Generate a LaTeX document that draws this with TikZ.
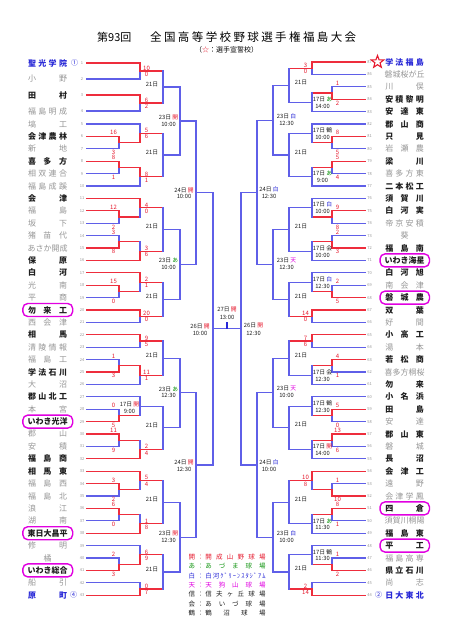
\documentclass[tikz,border=0pt]{standalone}
\usepackage{fontspec}
\setmainfont{Noto Sans CJK JP}
\usetikzlibrary{calc,shapes.geometric}
\definecolor{Wc}{RGB}{238,45,60}
\definecolor{Lc}{RGB}{95,95,232}
\definecolor{Rd}{RGB}{230,25,45}
\definecolor{Gn}{RGB}{20,150,20}
\definecolor{Bl}{RGB}{40,40,215}
\definecolor{Mg}{RGB}{225,0,225}
\definecolor{Gy}{RGB}{150,150,150}
\definecolor{Nb}{RGB}{30,30,30}
\def\spr#1{#1\sprnext}
\def\sprnext#1{\ifx#1\relax\else\hfill#1\expandafter\sprnext\fi}
\newcommand\venK{{\color{Rd}開}}
\newcommand\venA{{\color{Gn}あ}}
\newcommand\venS{{\color{Bl}白}}
\newcommand\venT{{\color{Mg}天}}
\newcommand\lteam[3]{\coordinate (t#1) at (87,{ly(#1)});
  \node[nm,#2] (n#1) at (47.5,{ly(#1)}) {\makebox[39pt]{\spr #3\relax}};
  \node[num] (k#1) at (82,{ly(#1)}) {#1};}
\newcommand\rteam[3]{\coordinate (t#1) at (365,{ry(#1)});
  \node[nm,#2] (n#1) at (404.5,{ry(#1)}) {\makebox[38.5pt]{\spr #3\relax}};
  \node[num] (k#1) at (369.5,{ry(#1)}) {#1};}
\newcommand\mch[7]{%
  \draw[#5] (#2) -- (#2 -| #4);
  \draw[#6] (#3) -- (#3 -| #4);
  \coordinate (#1) at ($(#2 -| #4)!0.5!(#3 -| #4)$);
  \ifcase#7\relax \draw[L] (#2 -| #4) -- (#3 -| #4);
  \or \draw[L] (#1) -- (#3 -| #4); \draw[W] (#2 -| #4) -- (#1);
  \or \draw[L] (#2 -| #4) -- (#1); \draw[W] (#1) -- (#3 -| #4);
  \fi}
% left first-level scores
\newcommand\scA[5]{\node[sc] (#1-u) at ($(#2 -| xa)+(-5.5,-3.6)$) {#4};
  \node[sc] (#1-l) at ($(#3 -| xa)+(-5.5,3.8)$) {#5};}
% left second-level scores
\newcommand\scB[3]{\node[sc] (#1-u) at ($(#1)+(6.5,-2.8)$) {#2};
  \node[sc] (#1-l) at ($(#1)+(6.5,3.4)$) {#3};}
% right first-level scores
\newcommand\scR[5]{\node[sc] (#1-u) at ($(#2 -| ra)+(5.5,-3.6)$) {#4};
  \node[sc] (#1-l) at ($(#3 -| ra)+(5.5,3.8)$) {#5};}
% right second-level scores
\newcommand\scQ[3]{\node[sc] (#1-u) at ($(#1)+(-6.5,-2.8)$) {#2};
  \node[sc] (#1-l) at ($(#1)+(-6.5,3.4)$) {#3};}
% date labels
\newcommand\dlab[6]{\node[lb] (#1-d) at ($(#1)+(#2,#3)$) {#5};
  \node[lb] (#1-h) at ($(#1)+(#2,#4)$) {#6};}
\newcommand\xxi[3]{\node[lb] (#1-x) at ($(#1)+(#2,#3)$) {21日};}
\newcommand\ringit[1]{\draw[ring] ($(n#1.west)+(-5,-6.5)$) rectangle ($(n#1.east)+(5.5,6.5)$);}
\newcommand\leg[4]{\node[inner sep=0,anchor=west,text=#2,font=\fontsize{6.5}{7}\selectfont] (g#1) at (188.3,{556.7+9.43*(#1-1)}) {\makebox[7pt][l]{#3}\makebox[10pt]{：}\makebox[60pt]{\spr #4\relax}};}
\begin{document}
\begin{tikzpicture}[x=1pt,y=-1pt,line cap=rect,
  W/.style={draw=Wc,line width=1.1pt},
  L/.style={draw=Lc,line width=1.1pt},
  nm/.style={inner sep=0,font=\fontsize{8}{9}\selectfont},
  ng/.style={text=Gy},
  nb/.style={text=Nb,font=\fontsize{8}{9}\selectfont\bfseries},
  nu/.style={text=Bl,font=\fontsize{8}{9}\selectfont\bfseries},
  num/.style={inner sep=0,text=Gy,font=\fontsize{4}{4}\selectfont},
  sc/.style={inner sep=0,text=Rd,font=\fontsize{6}{6}\selectfont},
  lb/.style={inner sep=0,text=Nb,font=\fontsize{5.8}{6}\selectfont},
  ring/.style={draw=Mg,line width=1.4pt,rounded corners=5pt},
  declare function={ly(\n)=(\n<5)*(63+(\n-1)*16)+(\n>=5)*(124+(\n-5)*12.4); ry(\n)=62+(87-\n)*12.4;}
]
\useasboundingbox (0,0) rectangle (452,640);
\fill[white] (0,0) rectangle (452,640);
% join columns
\coordinate (xa) at (119,0); \coordinate (xb) at (140,0); \coordinate (xc) at (163,0);
\coordinate (xd) at (180,0); \coordinate (xe) at (196,0); \coordinate (xf) at (213,0);
\coordinate (ra) at (332,0); \coordinate (rb) at (312,0); \coordinate (rc) at (289,0);
\coordinate (rd) at (273,0); \coordinate (re) at (257,0); \coordinate (rf) at (241,0);
% title
\node[inner sep=0,anchor=west,font=\fontsize{11}{12}\selectfont] (ttl1) at (97,37.5) {第93回};
\node[inner sep=0,anchor=west,font=\fontsize{11.5}{12}\selectfont] (ttl2) at (150,37.5) {\makebox[206pt]{\spr 全国高等学校野球選手権福島大会\relax}};
\node[inner sep=0,font=\fontsize{7}{8}\selectfont] (sub) at (226.5,50) {（{\color{Rd}☆}：選手宣誓校）};
% left teams
\lteam{1}{nu}{聖光学院}
\lteam{2}{ng}{小野}
\lteam{3}{nb}{田村}
\lteam{4}{ng}{福島明成}
\lteam{5}{ng}{塙工}
\lteam{6}{nb}{会津農林}
\lteam{7}{ng}{新地}
\lteam{8}{nb}{喜多方}
\lteam{9}{ng}{相双連合}
\lteam{10}{ng}{福島成蹊}
\lteam{11}{nb}{会津}
\lteam{12}{ng}{福島}
\lteam{13}{ng}{坂下}
\lteam{14}{ng}{猪苗代}
\lteam{15}{ng}{あさか開成}
\lteam{16}{nb}{保原}
\lteam{17}{nb}{白河}
\lteam{18}{ng}{光南}
\lteam{19}{ng}{平商}
\lteam{20}{nb}{勿来工}
\lteam{21}{ng}{西会津}
\lteam{22}{nb}{相馬}
\lteam{23}{ng}{清陵情報}
\lteam{24}{ng}{福島工}
\lteam{25}{nb}{学法石川}
\lteam{26}{ng}{大沼}
\lteam{27}{nb}{郡山北工}
\lteam{28}{ng}{本宮}
\lteam{29}{nb}{いわき光洋}
\lteam{30}{ng}{郡山}
\lteam{31}{ng}{安積}
\lteam{32}{nb}{福島商}
\lteam{33}{nb}{相馬東}
\lteam{34}{ng}{福島西}
\lteam{35}{ng}{福島北}
\lteam{36}{ng}{浪江}
\lteam{37}{ng}{湖南}
\lteam{38}{nb}{東日大昌平}
\lteam{39}{ng}{修明}
\lteam{40}{ng}{橘}
\lteam{41}{nb}{いわき総合}
\lteam{42}{ng}{船引}
\lteam{43}{nu}{原町}
\node[inner sep=0,text=Bl,font=\fontsize{7}{7}\selectfont] (seed1) at (74.5,{ly(1)}) {①};
\node[inner sep=0,text=Bl,font=\fontsize{7}{7}\selectfont] (seed4) at (73.5,{ly(43)}) {④};
% right teams
\rteam{87}{nu}{学法福島}
\rteam{86}{ng}{磐城桜が丘}
\rteam{85}{ng}{川俣}
\rteam{84}{nb}{安積黎明}
\rteam{83}{nb}{安達東}
\rteam{82}{nb}{郡山商}
\rteam{81}{nb}{只見}
\rteam{80}{ng}{岩瀬農}
\rteam{79}{nb}{梁川}
\rteam{78}{ng}{喜多方東}
\rteam{77}{nb}{二本松工}
\rteam{76}{nb}{須賀川}
\rteam{75}{nb}{白河実}
\rteam{74}{ng}{帝京安積}
\rteam{73}{ng}{葵}
\rteam{72}{nb}{福島南}
\rteam{71}{nb}{いわき海星}
\rteam{70}{nb}{白河旭}
\rteam{69}{ng}{南会津}
\rteam{68}{nb}{磐城農}
\rteam{67}{nb}{双葉}
\rteam{66}{ng}{好間}
\rteam{65}{nb}{小高工}
\rteam{64}{ng}{湯本}
\rteam{63}{nb}{若松商}
\rteam{62}{ng}{喜多方桐桜}
\rteam{61}{nb}{勿来}
\rteam{60}{nb}{小名浜}
\rteam{59}{nb}{田島}
\rteam{58}{ng}{安達}
\rteam{57}{nb}{郡山東}
\rteam{56}{ng}{磐城}
\rteam{55}{nb}{長沼}
\rteam{54}{nb}{会津工}
\rteam{53}{ng}{遠野}
\rteam{52}{ng}{会津学鳳}
\rteam{51}{nb}{四倉}
\rteam{50}{ng}{須賀川桐陽}
\rteam{49}{nb}{福島東}
\rteam{48}{nb}{平工}
\rteam{47}{ng}{福島高専}
\rteam{46}{nb}{県立石川}
\rteam{45}{ng}{尚志}
\rteam{44}{nu}{日大東北}
\node[inner sep=0,text=Bl,font=\fontsize{7}{7}\selectfont] (seed2) at (378.5,{ry(44)}) {②};
\node[star,star points=5,star point ratio=2.4,draw=Rd,line width=1.1pt,minimum size=13pt,inner sep=0] (star) at (377.5,{ry(87)}) {};
% left bracket
\mch{a1}{t1}{t2}{xb}{W}{L}{1}
\mch{a2}{t3}{t4}{xb}{W}{L}{1}
\mch{a3}{t6}{t7}{xa}{W}{L}{1}
\mch{a4}{t5}{a3}{xb}{L}{W}{2}
\mch{a5}{t8}{t9}{xa}{W}{L}{1}
\mch{a6}{a5}{t10}{xb}{W}{L}{1}
\mch{a7}{a1}{a2}{xc}{W}{W}{0}
\mch{a8}{a4}{a6}{xc}{W}{W}{0}
\mch{a9}{a7}{a8}{xd}{L}{L}{0}
\mch{b1}{t12}{t13}{xa}{W}{L}{1}
\mch{b2}{t11}{b1}{xb}{W}{W}{1}
\mch{b3}{t14}{t15}{xa}{L}{W}{2}
\mch{b4}{b3}{t16}{xb}{W}{W}{2}
\mch{b5}{b2}{b4}{xc}{W}{W}{0}
\mch{b6}{t18}{t19}{xa}{W}{L}{1}
\mch{b7}{t17}{b6}{xb}{W}{W}{1}
\mch{b8}{t20}{t21}{xb}{W}{L}{1}
\mch{b9}{b7}{b8}{xc}{W}{W}{0}
\mch{b10}{b5}{b9}{xd}{L}{L}{0}
\mch{e1}{a9}{b10}{xe}{L}{L}{0}
\mch{c1}{t22}{t23}{xb}{W}{L}{1}
\mch{c2}{t24}{t25}{xa}{L}{W}{2}
\mch{c3}{c2}{t26}{xb}{W}{L}{1}
\mch{c4}{c1}{c3}{xc}{W}{W}{0}
\mch{c5}{t28}{t29}{xa}{L}{W}{2}
\mch{c6}{t27}{c5}{xb}{L}{W}{0}
\mch{c7}{t30}{t31}{xa}{W}{L}{1}
\mch{c8}{c7}{t32}{xb}{W}{W}{2}
\mch{c9}{c6}{c8}{xc}{L}{W}{0}
\mch{c10}{c4}{c9}{xd}{L}{L}{0}
\mch{d1}{t34}{t35}{xa}{W}{L}{1}
\mch{d2}{t33}{d1}{xb}{W}{W}{1}
\mch{d3}{t36}{t37}{xa}{W}{L}{1}
\mch{d4}{d3}{t38}{xb}{W}{W}{2}
\mch{d5}{d2}{d4}{xc}{W}{W}{0}
\mch{d6}{t40}{t41}{xa}{L}{W}{2}
\mch{d7}{t39}{d6}{xb}{L}{W}{2}
\mch{d8}{t42}{t43}{xb}{L}{W}{2}
\mch{d9}{d7}{d8}{xc}{W}{W}{0}
\mch{d10}{d5}{d9}{xd}{L}{L}{0}
\mch{e2}{c10}{d10}{xe}{L}{L}{0}
\mch{f1}{e1}{e2}{xf}{L}{L}{0}
% right bracket
\mch{p1}{t87}{t86}{rb}{W}{L}{1}
\mch{p2}{t85}{t84}{ra}{L}{W}{2}
\mch{p3}{p2}{t83}{rb}{W}{L}{0}
\mch{p4}{p1}{p3}{rc}{W}{L}{0}
\mch{p5}{t81}{t80}{ra}{W}{L}{1}
\mch{p6}{t82}{p5}{rb}{L}{W}{0}
\mch{p7}{t79}{t78}{ra}{W}{L}{1}
\mch{p8}{p7}{t77}{rb}{W}{L}{0}
\mch{p9}{p6}{p8}{rc}{L}{L}{0}
\mch{p10}{p4}{p9}{rd}{L}{L}{0}
\mch{q1}{t75}{t74}{ra}{W}{L}{1}
\mch{q2}{t76}{q1}{rb}{L}{W}{0}
\mch{q3}{t73}{t72}{ra}{L}{W}{2}
\mch{q4}{q3}{t71}{rb}{W}{L}{0}
\mch{q5}{q2}{q4}{rc}{L}{L}{0}
\mch{q6}{t69}{t68}{ra}{L}{W}{2}
\mch{q7}{t70}{q6}{rb}{L}{W}{0}
\mch{q8}{t67}{t66}{rb}{W}{L}{1}
\mch{q9}{q7}{q8}{rc}{L}{W}{0}
\mch{q10}{q5}{q9}{rd}{L}{L}{0}
\mch{s1}{p10}{q10}{re}{L}{L}{0}
\mch{u1}{t65}{t64}{rb}{W}{L}{1}
\mch{u2}{t63}{t62}{ra}{W}{L}{1}
\mch{u3}{u2}{t61}{rb}{W}{L}{0}
\mch{u4}{u1}{u3}{rc}{W}{L}{0}
\mch{u5}{t59}{t58}{ra}{W}{L}{1}
\mch{u6}{t60}{u5}{rb}{L}{W}{0}
\mch{u7}{t57}{t56}{ra}{W}{L}{1}
\mch{u8}{u7}{t55}{rb}{W}{L}{0}
\mch{u9}{u6}{u8}{rc}{L}{L}{0}
\mch{u10}{u4}{u9}{rd}{L}{L}{0}
\mch{v1}{t53}{t52}{ra}{L}{W}{2}
\mch{v2}{t54}{v1}{rb}{W}{W}{1}
\mch{v3}{t51}{t50}{ra}{W}{L}{1}
\mch{v4}{v3}{t49}{rb}{W}{L}{0}
\mch{v5}{v2}{v4}{rc}{W}{L}{0}
\mch{v6}{t47}{t46}{ra}{L}{W}{2}
\mch{v7}{t48}{v6}{rb}{L}{W}{0}
\mch{v8}{t45}{t44}{rb}{L}{W}{2}
\mch{v9}{v7}{v8}{rc}{L}{W}{0}
\mch{v10}{v5}{v9}{rd}{L}{L}{0}
\mch{s2}{u10}{v10}{re}{L}{L}{0}
\mch{f2}{s1}{s2}{rf}{L}{L}{0}
% final
\draw[L] (f1) -- (f1 -| f2);
\coordinate (fc) at ($(f1)!0.5!(f1 -| f2)$);
\draw[draw=Bl,line width=1.5pt,line cap=butt] (fc) -- ++(0,-6.5);
% scores left
\scB{a1}{10}{0}
\scB{a2}{6}{2}
\scA{a3}{t6}{t7}{16}{3}
\scB{a4}{5}{6}
\scA{a5}{t8}{t9}{8}{1}
\scB{a6}{8}{1}
\scA{b1}{t12}{t13}{12}{2}
\scB{b2}{4}{0}
\scA{b3}{t14}{t15}{3}{8}
\scB{b4}{3}{6}
\scA{b6}{t18}{t19}{15}{0}
\scB{b7}{2}{1}
\scB{b8}{20}{0}
\scB{c1}{9}{5}
\scA{c2}{t24}{t25}{1}{3}
\scB{c3}{11}{1}
\scA{c5}{t28}{t29}{0}{5}
\scA{c7}{t30}{t31}{11}{9}
\scB{c8}{2}{4}
\scA{d1}{t34}{t35}{3}{2}
\scB{d2}{5}{4}
\scA{d3}{t36}{t37}{6}{0}
\scB{d4}{1}{8}
\scA{d6}{t40}{t41}{2}{3}
\scB{d7}{6}{9}
\scB{d8}{0}{7}
% scores right
\scQ{p1}{3}{0}
\scR{p2}{t85}{t84}{1}{2}
\scR{p5}{t81}{t80}{8}{5}
\scR{p7}{t79}{t78}{5}{4}
\scR{q1}{t75}{t74}{9}{8}
\scR{q3}{t73}{t72}{2}{3}
\scR{q6}{t69}{t68}{2}{5}
\scQ{q8}{14}{0}
\scQ{u1}{7}{6}
\scR{u2}{t63}{t62}{4}{1}
\scR{u5}{t59}{t58}{5}{0}
\scR{u7}{t57}{t56}{13}{6}
\scR{v1}{t53}{t52}{1}{10}
\scQ{v2}{10}{8}
\scR{v3}{t51}{t50}{8}{1}
\scR{v6}{t47}{t46}{1}{2}
\scQ{v8}{2}{14}
% day labels left
\dlab{c6}{-10.5}{-1.5}{5}{17日 \venK}{9:00}
\xxi{a7}{-11}{-2.5}\xxi{a8}{-11}{-2.5}\xxi{b5}{-11}{-2.5}\xxi{b9}{-11}{-2.5}
\xxi{c4}{-11}{-2.5}\xxi{c9}{-11}{-2.5}\xxi{d5}{-11}{-2.5}\xxi{d9}{-11}{-2.5}
\dlab{a9}{-11.5}{-4}{3}{23日 \venK}{10:00}
\dlab{b10}{-11.5}{-4}{3}{23日 \venA}{10:00}
\dlab{c10}{-11.5}{-4}{3}{23日 \venA}{12:30}
\dlab{d10}{-11.5}{-4}{3}{23日 \venK}{12:30}
\dlab{e1}{-12}{-2.5}{4}{24日 \venK}{10:00}
\dlab{e2}{-12}{-2.5}{4}{24日 \venK}{12:30}
\dlab{f1}{-13}{-2.8}{4.5}{26日 \venK}{10:00}
% day labels right
\dlab{p3}{10.5}{-3}{4}{17日 \venA}{14:00}
\dlab{p6}{10.5}{-3}{4}{17日 鶴}{10:00}
\dlab{p8}{10.5}{-3}{4}{17日 \venA}{9:00}
\dlab{q2}{10.5}{-3}{4}{17日 \venS}{10:00}
\dlab{q4}{10.5}{-3}{4}{17日 会}{10:00}
\dlab{q7}{10.5}{-3}{4}{17日 \venS}{12:30}
\dlab{u3}{10.5}{-3}{4}{17日 会}{12:30}
\dlab{u6}{10.5}{-3}{4}{17日 鶴}{12:30}
\dlab{u8}{10.5}{-3}{4}{17日 \venK}{14:00}
\dlab{v4}{10.5}{-3}{4}{17日 \venA}{11:30}
\dlab{v7}{10.5}{-3}{4}{17日 鶴}{11:30}
\xxi{p4}{12}{-3}\xxi{p9}{12}{-3}\xxi{q5}{12}{-3}\xxi{q9}{12}{-3}
\xxi{u4}{12}{-3}\xxi{u9}{12}{-3}\xxi{v5}{12}{-3}\xxi{v9}{12}{-3}
\dlab{p10}{13.5}{-4}{3}{23日 \venS}{12:30}
\dlab{q10}{13.5}{-4}{3}{23日 \venT}{12:30}
\dlab{u10}{13.5}{-4}{3}{23日 \venT}{10:00}
\dlab{v10}{13.5}{-4}{3}{23日 \venS}{10:00}
\dlab{s1}{12}{-2.5}{4}{24日 \venS}{12:30}
\dlab{s2}{12}{-2.5}{4}{24日 \venS}{10:00}
\dlab{f2}{12.5}{-2.8}{4.5}{26日 \venK}{12:30}
\dlab{fc}{0}{-19}{-11.5}{27日 \venK}{13:00}
% rings
\ringit{20}\ringit{29}\ringit{38}\ringit{41}
\ringit{71}\ringit{68}\ringit{51}\ringit{48}
% legend
\leg{1}{Rd}{開}{開成山野球場}
\leg{2}{Gn}{あ}{あづま球場}
\leg{3}{Bl}{白}{白河ｸﾞﾘｰﾝｽﾀｼﾞｱﾑ}
\leg{4}{Mg}{天}{天狗山球場}
\leg{5}{Nb}{信}{信夫ヶ丘球場}
\leg{6}{Nb}{会}{あいづ球場}
\leg{7}{Nb}{鶴}{鶴沼球場}
\end{tikzpicture}
\end{document}
